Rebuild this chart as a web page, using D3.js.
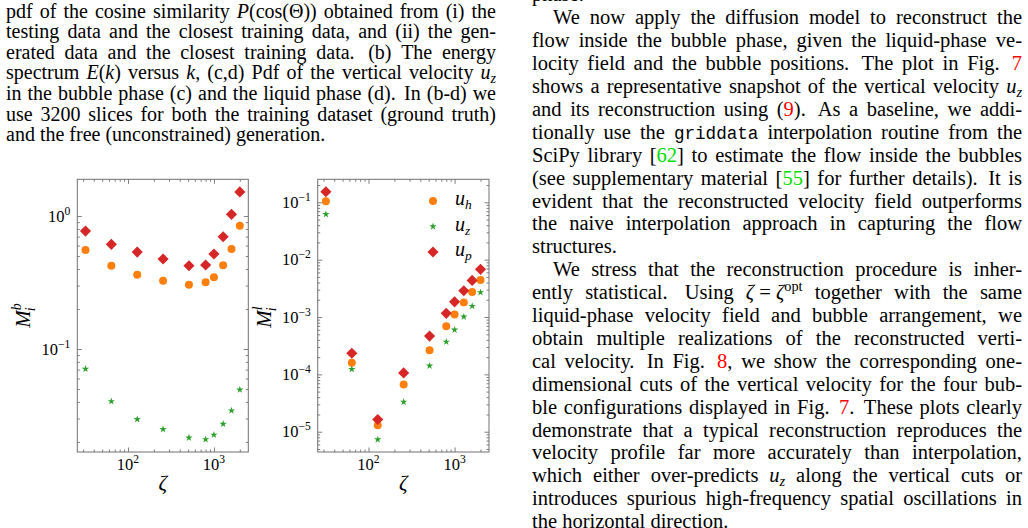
<!DOCTYPE html>
<html>
<head>
<meta charset="utf-8">
<script src="https://cdn.jsdelivr.net/npm/d3@7"></script>
<style>
  html, body { margin: 0; padding: 0; background: #fff; }
  svg { display: block; }
</style>
</head>
<body>
<div id="page"></div>
<script>
// zeta values shared by both panels
const zeta = [32, 64, 128, 256, 512, 800, 1000, 1280, 1600, 2000]

// (left) bubble phase M_i^b
const bubbleUh = [0.555, 0.423, 0.362, 0.326, 0.304, 0.318, 0.346, 0.426, 0.565, 0.846]
const bubbleUz = [0.0708, 0.0404, 0.0296, 0.0249, 0.0215, 0.0209, 0.0226, 0.0273, 0.0344, 0.0494]
const bubbleUp = [0.771, 0.613, 0.536, 0.475, 0.423, 0.428, 0.518, 0.699, 1.03, 1.52]

// (right) liquid phase M_i^l
const liquidUh = [0.104, 1.59e-4, 1.3e-5, 6.67e-5, 2.64e-4, 6.93e-4, 1.11e-3, 1.8e-3, 2.72e-3, 4.41e-3]
const liquidUz = [0.0618, 1.23e-4, 7.31e-6, 3.31e-5, 1.41e-4, 3.69e-4, 5.98e-4, 1.01e-3, 1.55e-3, 2.69e-3]
const liquidUp = [0.153, 2.34e-4, 1.63e-5, 1.06e-4, 4.65e-4, 1.16e-3, 1.84e-3, 2.87e-3, 4.35e-3, 6.78e-3]

const legendLabels = ['h', 'z', 'p']

// page text (tiny markup: <i> italic, <sub>, <sup>, <r> red ref, <g> green ref, <tt> mono)
const captionLines = [
  'pdf of the cosine similarity <i>P</i>(cos(Θ)) obtained from (i) the',
  'testing data and the closest training data, and (ii) the gen-',
  'erated data and the closest training data. (b) The energy',
  'spectrum <i>E</i>(<i>k</i>) versus <i>k</i>, (c,d) Pdf of the vertical velocity <i>u</i><sub><i>z</i></sub>',
  'in the bubble phase (c) and the liquid phase (d). In (b-d) we',
  'use 3200 slices for both the training dataset (ground truth)',
  'and the free (unconstrained) generation.',
]

const bodyParagraphs = [
  ['phase.'],
  [
    'We now apply the diffusion model to reconstruct the',
    'flow inside the bubble phase, given the liquid-phase ve-',
    'locity field and the bubble positions. The plot in Fig. <r>7</r>',
    'shows a representative snapshot of the vertical velocity <i>u</i><sub><i>z</i></sub>',
    'and its reconstruction using (<r>9</r>). As a baseline, we addi-',
    'tionally use the <tt>griddata</tt> interpolation routine from the',
    'SciPy library [<g>62</g>] to estimate the flow inside the bubbles',
    '(see supplementary material [<g>55</g>] for further details). It is',
    'evident that the reconstructed velocity field outperforms',
    'the naive interpolation approach in capturing the flow',
    'structures.',
  ],
  [
    'We stress that the reconstruction procedure is inher-',
    'ently statistical. Using <i>ζ</i>\u00a0=\u00a0<i>ζ</i><sup>opt</sup> together with the same',
    'liquid-phase velocity field and bubble arrangement, we',
    'obtain multiple realizations of the reconstructed verti-',
    'cal velocity. In Fig. <r>8</r>, we show the corresponding one-',
    'dimensional cuts of the vertical velocity for the four bub-',
    'ble configurations displayed in Fig. <r>7</r>. These plots clearly',
    'demonstrate that a typical reconstruction reproduces the',
    'velocity profile far more accurately than interpolation,',
    'which either over-predicts <i>u</i><sub><i>z</i></sub> along the vertical cuts or',
    'introduces spurious high-frequency spatial oscillations in',
    'the horizontal direction.',
  ],
]

;(function () {
  const width = 1028
  const height = 528
  const serif = '"Liberation Serif", "Times New Roman", serif'
  const frameColor = '#707070'
  const colors = { h: '#ff7f0e', z: '#2ca02c', p: '#d62728' }

  const svg = d3
    .select('#page')
    .append('svg')
    .attr('width', width)
    .attr('height', height)
    .attr('font-family', serif)

  // ---------- rich text helpers ----------
  function addRich(text, markup, size) {
    const parts = markup.split(/(<\/?[a-z]+>)/).filter(s => s.length)
    const active = new Set()
    let shift = 0
    parts.forEach(p => {
      const m = p.match(/^<(\/?)([a-z]+)>$/)
      if (m) {
        if (m[1]) active.delete(m[2])
        else active.add(m[2])
        return
      }
      const sub = active.has('sub')
      const sup = active.has('sup')
      const target = sub ? size * 0.2 : sup ? -size * 0.38 : 0
      const ts = text.append('tspan').text(p)
      if (target !== shift) {
        ts.attr('dy', target - shift)
        shift = target
      }
      ts.attr('font-size', sub || sup ? size * 0.7 : size)
      if (active.has('i')) ts.attr('font-style', 'italic')
      if (active.has('r')) ts.attr('fill', '#ff0000')
      if (active.has('g')) ts.attr('fill', '#00dd00')
      if (active.has('tt')) ts.attr('font-family', '"Liberation Mono", monospace').attr('font-size', size * 0.86)
    })
    return text
  }

  function drawLine(g, markup, x0, lineWidth, baseline, size, justify) {
    const words = markup.split(/ +/)
    const nodes = words.map(w =>
      addRich(g.append('text').attr('y', baseline).attr('font-size', size), w, size),
    )
    const widths = nodes.map(n => n.node().getComputedTextLength())
    const total = d3.sum(widths)
    // sentence ends get a little extra room, like TeX
    const weights = words.slice(0, -1).map(w => (/[.]$/.test(w) ? 1.4 : 1))
    const unit = justify && words.length > 1
      ? (lineWidth - total) / d3.sum(weights)
      : size * 0.25
    let x = x0
    nodes.forEach((n, i) => {
      n.attr('x', x)
      x += widths[i] + unit * (justify ? weights[i] || 0 : 1)
    })
  }

  // left caption
  const caption = svg.append('g')
  captionLines.forEach((line, i) => {
    drawLine(caption, line, 6, 490, 17.5 + i * 20.6, 20, i < captionLines.length - 1)
  })

  // right column body text
  const body = svg.append('g')
  let row = 0
  bodyParagraphs.forEach((para, pi) => {
    para.forEach((line, li) => {
      const indent = pi > 0 && li === 0 ? 21 : 0
      const baseline = 1.4 + row * 22.9
      drawLine(body, line, 532 + indent, 490 - indent, baseline, 20.5, li < para.length - 1)
      row += 1
    })
  })

  // ---------- plots ----------
  const xDomain = [25.7, 2510]

  function logTicks(domain) {
    const out = []
    const lo = Math.floor(Math.log10(domain[0]))
    const hi = Math.ceil(Math.log10(domain[1]))
    for (let e = lo; e <= hi; e++) {
      for (let k = 1; k <= 9; k++) {
        const v = k * Math.pow(10, e)
        if (v >= domain[0] && v <= domain[1]) out.push({ v, major: k === 1, e })
      }
    }
    return out
  }

  function powerLabel(text, e, size) {
    text.append('tspan').text('10').attr('font-size', size)
    text
      .append('tspan')
      .text(e < 0 ? '\u2212' + -e : String(e))
      .attr('font-size', size * 0.7)
      .attr('dy', -size * 0.42)
  }

  function drawPlot(frame, yDomain, series, yLabelSup, withLegend) {
    const { x0, x1, y0, y1 } = frame
    const x = d3.scaleLog().domain(xDomain).range([x0, x1])
    const y = d3.scaleLog().domain(yDomain).range([y1, y0])
    const g = svg.append('g')

    const xt = logTicks(xDomain)
    const yt = logTicks(yDomain)
    const majorLen = 4.5
    const minorLen = 2.5

    const axes = [
      [d3.axisBottom, x, `translate(0,${y1})`, xt],
      [d3.axisTop, x, `translate(0,${y0})`, xt],
      [d3.axisLeft, y, `translate(${x0},0)`, yt],
      [d3.axisRight, y, `translate(${x1},0)`, yt],
    ]
    axes.forEach(([axisFn, scale, tr, ticks]) => {
      ;[true, false].forEach(major => {
        g.append('g')
          .attr('transform', tr)
          .call(
            axisFn(scale)
              .tickValues(ticks.filter(t => t.major === major).map(t => t.v))
              .tickFormat(() => '')
              .tickSizeInner(-(major ? majorLen : minorLen))
              .tickSizeOuter(0),
          )
          .call(a => a.select('.domain').remove())
          .call(a => a.selectAll('line').attr('stroke', frameColor).attr('stroke-width', 0.9))
      })
    })

    g.append('rect')
      .attr('x', x0)
      .attr('y', y0)
      .attr('width', x1 - x0)
      .attr('height', y1 - y0)
      .attr('fill', 'none')
      .attr('stroke', frameColor)
      .attr('stroke-width', 1)

    // tick labels
    xt.filter(t => t.major).forEach(t => {
      const txt = g.append('text')
        .attr('x', x(t.v))
        .attr('y', y1 + 18)
        .attr('text-anchor', 'middle')
      powerLabel(txt, t.e, 16.5)
    })
    yt.filter(t => t.major).forEach(t => {
      const txt = g.append('text')
        .attr('x', x0 - 7)
        .attr('y', y(t.v) + 5.5)
        .attr('text-anchor', 'end')
      powerLabel(txt, t.e, 16.5)
    })

    // axis labels
    g.append('text')
      .attr('x', (x0 + x1) / 2)
      .attr('y', y1 + 38)
      .attr('text-anchor', 'middle')
      .attr('font-style', 'italic')
      .attr('font-size', 21)
      .text('ζ')

    const yl = g.append('g').attr('transform', `translate(${x0 - 47},${(y0 + y1) / 2}) rotate(-90)`)
    const mText = yl.append('text')
      .attr('x', -12)
      .attr('y', 0)
      .attr('font-style', 'italic')
      .attr('font-size', 21)
      .text('M')
    const mw = mText.node().getComputedTextLength()
    yl.append('text')
      .attr('x', -12 + mw - 1)
      .attr('y', 5)
      .attr('font-style', 'italic')
      .attr('font-size', 14)
      .text('i')
    yl.append('text')
      .attr('x', -12 + mw)
      .attr('y', -9)
      .attr('font-style', 'italic')
      .attr('font-size', 14)
      .text(yLabelSup)

    // markers
    const shapes = {
      h: d3.symbol(d3.symbolCircle, 50),
      z: d3.symbol(d3.symbolStar, 17),
      p: d3.symbol(d3.symbolSquare, 62),
    }
    const rot = { h: 0, z: 0, p: 45 }
    series.forEach(([key, values]) => {
      g.append('g')
        .selectAll('path')
        .data(values.map((v, i) => [zeta[i], v]))
        .join('path')
        .attr('d', shapes[key])
        .attr('transform', d => `translate(${x(d[0])},${y(d[1])}) rotate(${rot[key]})`)
        .attr('fill', colors[key])
    })

    if (withLegend) {
      legendLabels.forEach((key, i) => {
        const ly = 201 + i * 25.5
        g.append('path')
          .attr('d', shapes[key])
          .attr('transform', `translate(433,${ly}) rotate(${rot[key]})`)
          .attr('fill', colors[key])
        const t = g.append('text').attr('x', 455).attr('y', ly + 4).attr('font-style', 'italic')
        t.append('tspan').attr('font-size', 20).text('u')
        t.append('tspan').attr('font-size', 13.5).attr('dy', 4).text(key)
      })
    }
  }

  drawPlot(
    { x0: 77.3, x1: 248.3, y0: 179.3, y1: 452 },
    [0.0168, 1.89],
    [['h', bubbleUh], ['z', bubbleUz], ['p', bubbleUp]],
    'b',
    false,
  )
  drawPlot(
    { x0: 317.7, x1: 489, y0: 179.3, y1: 452 },
    [4.43e-6, 0.252],
    [['h', liquidUh], ['z', liquidUz], ['p', liquidUp]],
    'l',
    true,
  )
})()
</script>
</body>
</html>
